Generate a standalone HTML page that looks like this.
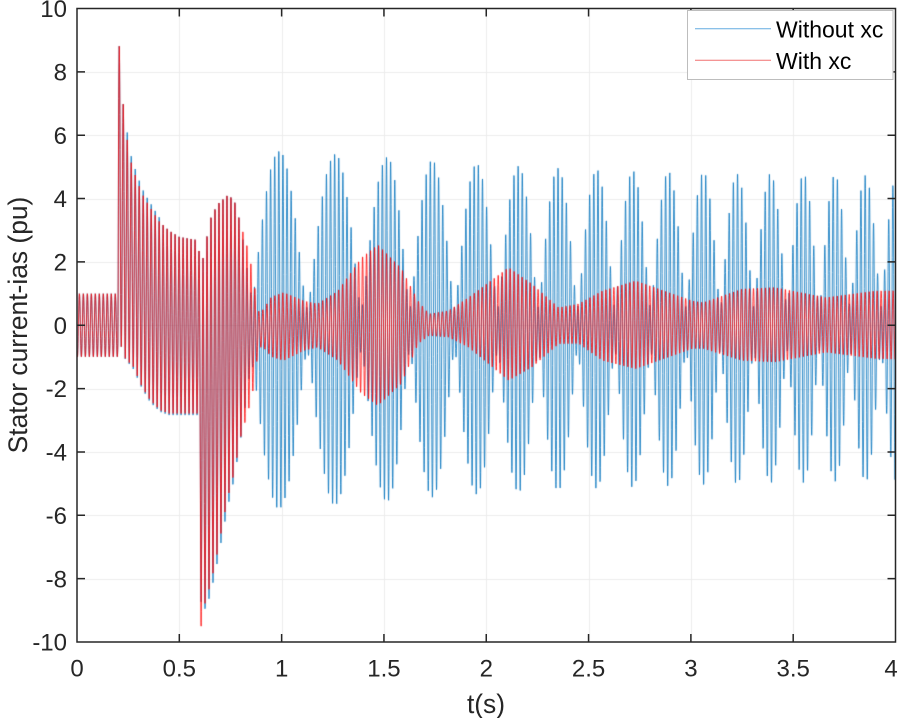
<!DOCTYPE html>
<html>
<head>
<meta charset="utf-8">
<style>
html,body{margin:0;padding:0;background:#fff;}
#wrap{position:relative;width:899px;height:718px;overflow:hidden;background:#fff;}
canvas,svg{position:absolute;left:0;top:0;}
text{font-family:"Liberation Sans",Arial,sans-serif;fill:#262626;}
</style>
</head>
<body>
<div id="wrap">
<canvas id="c" width="899" height="718"></canvas>
<svg width="899" height="718" viewBox="0 0 899 718" xmlns="http://www.w3.org/2000/svg">
  <g stroke="#262626" stroke-width="1.5" fill="none">
    <rect x="77" y="8.5" width="818.5" height="633.5"/>
    <path d="M179.31 642v-8M281.63 642v-8M383.94 642v-8M486.25 642v-8M588.56 642v-8M690.88 642v-8M793.19 642v-8
             M179.31 8.5v8M281.63 8.5v8M383.94 8.5v8M486.25 8.5v8M588.56 8.5v8M690.88 8.5v8M793.19 8.5v8"/>
    <path d="M77 71.85h8M77 135.2h8M77 198.55h8M77 261.9h8M77 325.25h8M77 388.6h8M77 451.95h8M77 515.3h8M77 578.65h8
             M895.5 71.85h-8M895.5 135.2h-8M895.5 198.55h-8M895.5 261.9h-8M895.5 325.25h-8M895.5 388.6h-8M895.5 451.95h-8M895.5 515.3h-8M895.5 578.65h-8"/>
  </g>
  <g font-size="24" text-anchor="end">
    <text x="67" y="17.1">10</text>
    <text x="67" y="80.45">8</text>
    <text x="67" y="143.8">6</text>
    <text x="67" y="207.15">4</text>
    <text x="67" y="270.5">2</text>
    <text x="67" y="333.85">0</text>
    <text x="67" y="397.2">-2</text>
    <text x="67" y="460.55">-4</text>
    <text x="67" y="523.9">-6</text>
    <text x="67" y="587.25">-8</text>
    <text x="67" y="650.6">-10</text>
  </g>
  <g font-size="24" text-anchor="middle">
    <text x="77" y="676.5">0</text>
    <text x="179.31" y="676.5">0.5</text>
    <text x="281.63" y="676.5">1</text>
    <text x="383.94" y="676.5">1.5</text>
    <text x="486.25" y="676.5">2</text>
    <text x="588.56" y="676.5">2.5</text>
    <text x="690.88" y="676.5">3</text>
    <text x="793.19" y="676.5">3.5</text>
    <text x="891" y="676.5">4</text>
  </g>
  <text x="486" y="713" font-size="26.4" text-anchor="middle">t(s)</text>
  <text transform="translate(27,325) rotate(-90)" font-size="26.4" text-anchor="middle">Stator current-ias (pu)</text>
  <rect x="687.5" y="10.5" width="205.5" height="69" fill="#fff" stroke="#bdbdbd" stroke-width="1"/>
  <line x1="695" y1="28.8" x2="771" y2="28.8" stroke="#64ace0" stroke-width="1"/>
  <line x1="695" y1="60.3" x2="771" y2="60.3" stroke="#f07070" stroke-width="1"/>
  <text x="776" y="37.5" font-size="23" style="fill:#000">Without xc</text>
  <text x="776" y="69" font-size="23" style="fill:#000">With xc</text>
</svg>
</div>
<script>
(function(){
var cv=document.getElementById('c');
var ctx=cv.getContext('2d');
var X0=77,X1=895.5,Y0=8.5,Y1=642;
function px(t){return X0+t*(X1-X0)/4;}
function py(v){return Y1-(v+10)*(Y1-Y0)/20;}
function interp(tab,t){
  if(t<=tab[0][0])return tab[0][1];
  for(var i=1;i<tab.length;i++){
    if(t<=tab[i][0]){var a=tab[i-1],b=tab[i];return a[1]+(b[1]-a[1])*(t-a[0])/(b[0]-a[0]);}
  }
  return tab[tab.length-1][1];
}
ctx.strokeStyle='rgb(236,236,236)';ctx.lineWidth=1;
ctx.beginPath();
for(var i=1;i<8;i++){var x=Math.round(px(i*0.5))+0.5;ctx.moveTo(x,Y0);ctx.lineTo(x,Y1);}
for(var v=-8;v<=8;v+=2){var y=Math.round(py(v))+0.5;ctx.moveTo(X0,y);ctx.lineTo(X1,y);}
ctx.stroke();

var redHi=[[0,1],[0.2,1],[0.203,8.83],[0.2066,8.83],[0.2261,6.97],[0.2456,5.85],[0.265,5.14],[0.2846,4.75],[0.304,4.4],[0.3236,4.1],[0.343,3.88],[0.4,3.3],[0.45,3.0],[0.5,2.8],[0.59,2.7],[0.6062,1.8],[0.628,2.6],[0.653,3.4],[0.686,3.84],[0.735,4.12],[0.767,4.0],[0.8,3.2],[0.833,2.46],[0.857,1.72],[0.875,0.9],[0.89,0.4],[0.91,0.5],[0.95,0.9],[1.01,1.04],[1.11,0.77],[1.176,0.68],[1.275,1.09],[1.39,2.14],[1.47,2.55],[1.585,1.8],[1.667,0.77],[1.72,0.36],[1.815,0.46],[1.913,0.88],[2.109,1.83],[2.223,1.31],[2.354,0.56],[2.452,0.68],[2.567,1.09],[2.73,1.41],[3.009,0.77],[3.06,0.72],[3.25,1.15],[3.41,1.2],[3.66,0.88],[3.9,1.09],[4.1,1.1]];
var redLo=[[0,-1],[0.2,-1],[0.203,-0.3],[0.226,-1.0],[0.275,-1.33],[0.317,-1.96],[0.358,-2.39],[0.407,-2.7],[0.45,-2.8],[0.59,-2.8],[0.597,-3.5],[0.6062,-9.6],[0.628,-8.7],[0.653,-8.2],[0.686,-7.2],[0.735,-5.5],[0.767,-4.7],[0.8,-3.55],[0.833,-2.8],[0.857,-2.2],[0.875,-1.3],[0.89,-0.7],[0.91,-0.7],[0.95,-1.0],[1.01,-1.12],[1.11,-0.8],[1.176,-0.7],[1.275,-1.12],[1.39,-2.17],[1.47,-2.55],[1.585,-1.85],[1.667,-0.59],[1.72,-0.33],[1.815,-0.38],[1.913,-0.7],[2.109,-1.75],[2.223,-1.33],[2.354,-0.59],[2.452,-0.58],[2.567,-1.12],[2.73,-1.38],[3.009,-0.74],[3.06,-0.74],[3.25,-1.12],[3.41,-1.17],[3.66,-0.86],[3.9,-1.06],[4.1,-1.1]];
var blueLo=[[0,-1],[0.2,-1],[0.203,-0.3],[0.226,-1.0],[0.275,-1.4],[0.317,-2.0],[0.358,-2.45],[0.407,-2.75],[0.45,-2.85],[0.59,-2.85],[0.597,-3.4],[0.6062,-8.8],[0.628,-9.0],[0.653,-8.5],[0.686,-7.5],[0.735,-5.8],[0.767,-4.9],[0.8,-3.6],[0.833,-2.8],[0.857,-2.3],[0.9,-2.0]];
var beatPk=[0.7075,0.9875,1.262,1.5165,1.736,1.954,2.158,2.351,2.540,2.716,2.890,3.062,3.226,3.389,3.551,3.704,3.853,4.005,4.155];
var Ptab=[[0.7,5.65],[1.0,5.65],[1.5,5.45],[2.0,5.2],[2.5,5.05],[3.0,4.95],[3.5,4.88],[4.1,4.82]];
var offTab=[[0.7,-0.15],[2,-0.12],[4.1,-0.1]];
function phi(t){
  if(t<=beatPk[0])return (t-beatPk[0])/0.28;
  for(var i=1;i<beatPk.length;i++){if(t<=beatPk[i])return i-1+(t-beatPk[i-1])/(beatPk[i]-beatPk[i-1]);}
  return beatPk.length-1;
}
var f=51.3;
function th(t){return 2*Math.PI*f*(t-0.2066);}
function red(t){var h=interp(redHi,t),l=interp(redLo,t);return (h+l)/2+(h-l)/2*Math.cos(th(t));}
function blueTrans(t){
  var h=interp(redHi,t);
  if(t>0.23&&t<0.42)h*=1.04;
  var l=interp(blueLo,t);
  return (h+l)/2+(h-l)/2*Math.cos(th(t));
}
function blueBeat(t){
  var P=interp(Ptab,t),n=0.7,A1=(P+n)/2,A2=(P-n)/2,o=interp(offTab,t);
  var a=th(t);
  return o+A1*Math.cos(a)+A2*Math.cos(a-2*Math.PI*phi(t));
}
function blue(t){
  if(t<=0.8)return blueTrans(t);
  if(t>=0.875)return blueBeat(t);
  var w=(t-0.8)/0.075;
  return (1-w)*blueTrans(t)+w*blueBeat(t);
}
ctx.save();
ctx.beginPath();ctx.rect(X0,Y0,X1-X0,Y1-Y0);ctx.clip();
var dt=1/(f*24),N=Math.ceil(4.02/dt);
ctx.lineWidth=0.8;ctx.lineJoin='round';
ctx.strokeStyle='rgb(0,114,189)';
ctx.beginPath();
for(var k=0;k<=N;k++){var t=k*dt;var x=px(t),y=py(blue(t));if(k===0)ctx.moveTo(x,y);else ctx.lineTo(x,y);}
ctx.stroke();
ctx.strokeStyle='rgb(255,0,0)';
ctx.beginPath();
for(var k=0;k<=N;k++){var t=k*dt;var x=px(t),y=py(red(t));if(k===0)ctx.moveTo(x,y);else ctx.lineTo(x,y);}
ctx.stroke();
ctx.restore();
})();
</script>
</body>
</html>
